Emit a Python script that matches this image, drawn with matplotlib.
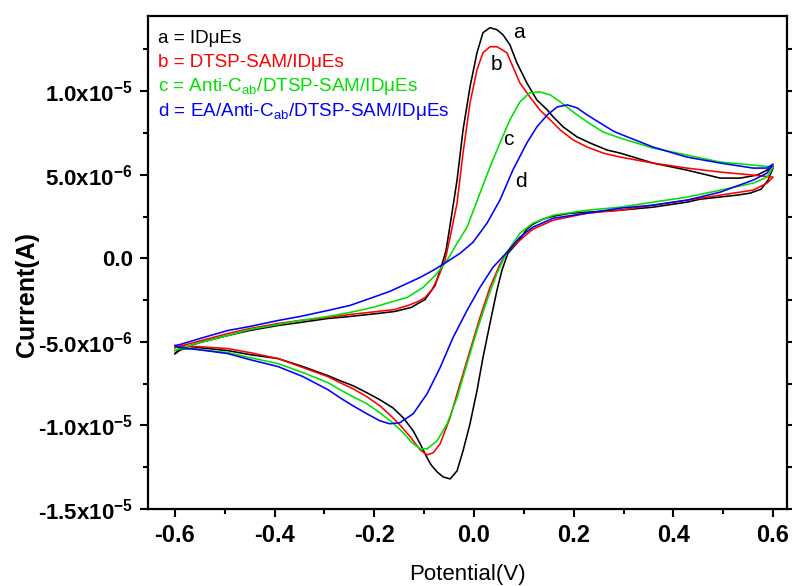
import matplotlib
matplotlib.use('Agg')
import numpy as np
import matplotlib.pyplot as plt
from matplotlib.ticker import FixedLocator, MultipleLocator

plt.rcParams['font.family'] = 'Liberation Sans'
plt.rcParams['mathtext.fontset'] = 'custom'
plt.rcParams['mathtext.rm'] = 'Liberation Sans'
plt.rcParams['mathtext.bf'] = 'Liberation Sans:bold'
plt.rcParams['axes.unicode_minus'] = False

# Voltammogramas: barrido de ida (-0.6 -> 0.6 V) y de vuelta (0.6 -> -0.6 V), corriente en uA
# a = IDuEs
a_ida_E = [-0.600, -0.588, -0.550, -0.494, -0.450, -0.393, -0.349, -0.293, -0.249, -0.193,
           -0.159, -0.126, -0.098, -0.078, -0.066, -0.056, -0.048, -0.034, -0.022, -0.008,
           0.006, 0.018, 0.032, 0.046, 0.058, 0.072, 0.086, 0.106, 0.126, 0.147,
           0.159, 0.179, 0.207, 0.233, 0.267, 0.293, 0.359, 0.427, 0.494, 0.534,
           0.568, 0.588, 0.600]
a_ida_I = [-5.70, -5.40, -5.04, -4.62, -4.32, -4.02, -3.84, -3.60, -3.48, -3.30,
           -3.18, -2.94, -2.46, -1.62, -0.54, 0.48, 1.98, 4.68, 7.68, 10.26,
           12.30, 13.50, 13.80, 13.68, 13.38, 12.78, 11.70, 10.50, 9.48, 8.88,
           8.46, 7.86, 7.26, 6.90, 6.48, 6.30, 5.70, 5.28, 4.80, 4.80,
           4.98, 5.28, 5.52]
a_vuelta_E = [0.600, 0.590, 0.576, 0.554, 0.528, 0.454, 0.427, 0.359, 0.293, 0.227,
              0.193, 0.159, 0.138, 0.118, 0.106, 0.086, 0.068, 0.056, 0.046, 0.032,
              0.018, 0.006, -0.008, -0.022, -0.034, -0.048, -0.062, -0.074, -0.086, -0.094,
              -0.108, -0.122, -0.142, -0.163, -0.189, -0.215, -0.243, -0.269, -0.293, -0.343,
              -0.393, -0.450, -0.494, -0.554, -0.588, -0.600]
a_vuelta_I = [5.40, 4.68, 4.14, 3.90, 3.78, 3.54, 3.36, 3.06, 2.88, 2.76,
              2.70, 2.52, 2.34, 2.04, 1.74, 0.90, 0.30, -0.72, -1.92, -3.90,
              -5.94, -7.92, -9.90, -11.52, -12.72, -13.20, -13.08, -12.78, -12.36, -11.94,
              -11.10, -10.32, -9.54, -8.94, -8.46, -8.04, -7.62, -7.32, -7.02, -6.48,
              -6.00, -5.76, -5.52, -5.34, -5.46, -5.70]

# b = DTSP-SAM/IDuEs
b_ida_E = [-0.600, -0.570, -0.494, -0.450, -0.393, -0.349, -0.293, -0.249, -0.193, -0.159,
           -0.132, -0.112, -0.098, -0.084, -0.072, -0.058, -0.048, -0.034, -0.022, -0.008,
           0.006, 0.018, 0.032, 0.046, 0.066, 0.078, 0.092, 0.112, 0.132, 0.153,
           0.173, 0.199, 0.227, 0.259, 0.293, 0.359, 0.427, 0.494, 0.560, 0.600]
b_ida_I = [-5.34, -5.10, -4.50, -4.20, -3.90, -3.72, -3.54, -3.36, -3.18, -3.06,
           -2.82, -2.58, -2.34, -1.86, -1.14, -0.12, 1.26, 3.30, 6.30, 9.30,
           11.28, 12.30, 12.66, 12.66, 12.30, 11.46, 10.50, 9.66, 8.88, 8.28,
           7.68, 7.08, 6.66, 6.30, 6.06, 5.70, 5.40, 5.16, 4.98, 4.86]
b_vuelta_E = [0.600, 0.588, 0.560, 0.494, 0.427, 0.359, 0.293, 0.227, 0.159, 0.118,
              0.092, 0.066, 0.052, 0.032, 0.012, -0.008, -0.028, -0.048, -0.068, -0.082,
              -0.094, -0.108, -0.128, -0.149, -0.169, -0.189, -0.215, -0.243, -0.269, -0.293,
              -0.343, -0.393, -0.450, -0.494, -0.554, -0.590, -0.600]
b_vuelta_I = [4.86, 4.50, 4.08, 3.78, 3.48, 3.18, 2.88, 2.70, 2.28, 1.74,
              1.08, 0.36, -0.36, -1.74, -3.54, -5.52, -7.50, -9.54, -11.10, -11.64,
              -11.76, -11.46, -10.68, -9.96, -9.36, -8.82, -8.28, -7.80, -7.44, -7.08,
              -6.54, -6.00, -5.64, -5.40, -5.28, -5.28, -5.34]

# c = Anti-Cab/DTSP-SAM/IDuEs
c_ida_E = [-0.600, -0.590, -0.550, -0.494, -0.450, -0.393, -0.349, -0.293, -0.249, -0.203,
           -0.169, -0.134, -0.102, -0.074, -0.054, -0.034, -0.014, 0.012, 0.032, 0.052,
           0.072, 0.092, 0.112, 0.132, 0.153, 0.173, 0.199, 0.227, 0.259, 0.293,
           0.359, 0.427, 0.494, 0.560, 0.600]
c_ida_I = [-5.52, -5.40, -5.04, -4.62, -4.26, -3.96, -3.72, -3.48, -3.24, -2.94,
           -2.64, -2.34, -1.74, -0.90, -0.12, 0.90, 1.86, 3.90, 5.46, 6.90,
           8.28, 9.36, 9.90, 9.96, 9.78, 9.36, 8.76, 8.16, 7.56, 7.20,
           6.60, 6.18, 5.76, 5.58, 5.46]
c_vuelta_E = [0.600, 0.588, 0.560, 0.494, 0.427, 0.359, 0.293, 0.227, 0.159, 0.118,
              0.092, 0.066, 0.046, 0.026, 0.006, -0.014, -0.034, -0.054, -0.074, -0.094,
              -0.108, -0.124, -0.142, -0.163, -0.189, -0.215, -0.243, -0.269, -0.293, -0.343,
              -0.393, -0.450, -0.494, -0.554, -0.590, -0.600]
c_vuelta_I = [5.46, 4.86, 4.50, 4.08, 3.66, 3.36, 3.06, 2.88, 2.58, 2.10,
              1.50, 0.36, -0.90, -2.52, -4.32, -6.30, -8.34, -9.90, -10.92, -11.40,
              -11.40, -11.04, -10.44, -9.84, -9.24, -8.70, -8.28, -7.86, -7.44, -6.84,
              -6.30, -5.94, -5.64, -5.46, -5.40, -5.52]

# d = EA/Anti-Cab/DTSP-SAM/IDuEs
d_ida_E = [-0.600, -0.590, -0.550, -0.494, -0.450, -0.393, -0.349, -0.293, -0.249, -0.203,
           -0.169, -0.134, -0.108, -0.082, -0.056, -0.028, -0.002, 0.026, 0.052, 0.078,
           0.106, 0.126, 0.147, 0.167, 0.187, 0.207, 0.227, 0.253, 0.279, 0.293,
           0.359, 0.427, 0.494, 0.560, 0.588, 0.600]
d_ida_I = [-5.22, -5.16, -4.80, -4.32, -4.08, -3.72, -3.48, -3.12, -2.82, -2.34,
           -1.98, -1.50, -1.14, -0.72, -0.24, 0.30, 0.96, 2.10, 3.48, 5.28,
           6.90, 7.86, 8.58, 9.06, 9.18, 9.00, 8.58, 8.10, 7.62, 7.44,
           6.66, 6.06, 5.70, 5.40, 5.40, 5.64]
d_vuelta_E = [0.600, 0.588, 0.560, 0.494, 0.427, 0.359, 0.293, 0.227, 0.159, 0.118,
              0.092, 0.066, 0.038, 0.012, -0.014, -0.042, -0.068, -0.094, -0.122, -0.149,
              -0.169, -0.189, -0.215, -0.243, -0.269, -0.293, -0.343, -0.393, -0.450, -0.494,
              -0.554, -0.590, -0.600]
d_vuelta_I = [5.64, 5.10, 4.68, 3.96, 3.48, 3.18, 3.00, 2.70, 2.40, 1.86,
              1.26, 0.36, -0.54, -1.74, -3.12, -4.74, -6.54, -8.10, -9.30, -9.84,
              -9.90, -9.72, -9.30, -8.82, -8.34, -7.86, -7.08, -6.48, -6.06, -5.70,
              -5.46, -5.34, -5.22]

leyendas = ['a = ID\u03bcEs',
            'b = DTSP-SAM/ID\u03bcEs',
            'c = Anti-C$_{\\mathregular{ab}}$/DTSP-SAM/ID\u03bcEs',
            'd = EA/Anti-C$_{\\mathregular{ab}}$/DTSP-SAM/ID\u03bcEs']
colores = ['black', '#ff0000', '#00e000', '#0000ff']

x_ticks = [-0.6, -0.4, -0.2, 0.0, 0.2, 0.4, 0.6]
x_labels = ['-0.6', '-0.4', '-0.2', '0.0', '0.2', '0.4', '0.6']
y_ticks = [-1.5e-5, -1.0e-5, -5e-6, 0.0, 5e-6, 1.0e-5]
y_labels = ['-1.5x10$^{\\mathbf{-5}}$', '-1.0x10$^{\\mathbf{-5}}$', '-5.0x10$^{\\mathbf{-6}}$',
            '0.0', '5.0x10$^{\\mathbf{-6}}$', '1.0x10$^{\\mathbf{-5}}$']

curvas = [(a_ida_E, a_ida_I, a_vuelta_E, a_vuelta_I),
          (b_ida_E, b_ida_I, b_vuelta_E, b_vuelta_I),
          (c_ida_E, c_ida_I, c_vuelta_E, c_vuelta_I),
          (d_ida_E, d_ida_I, d_vuelta_E, d_vuelta_I)]

fig = plt.figure(figsize=(7.92, 5.86), dpi=100)
ax = fig.add_axes([0.1869, 0.1314, 0.8068, 0.8413])

# dibujar cada ciclo completo (ida + vuelta) en A
for (e1, i1, e2, i2), col in zip(curvas, colores):
    E = np.concatenate([e1, e2])
    I = np.concatenate([i1, i2]) * 1e-6
    ax.plot(E, I, color=col, lw=1.15)

ax.set_xlim(-0.654, 0.628)
ax.set_ylim(-1.5e-5, 1.45e-5)

ax.xaxis.set_major_locator(FixedLocator(x_ticks))
ax.set_xticklabels(x_labels, fontsize=17, fontweight='bold')
ax.xaxis.set_minor_locator(MultipleLocator(0.1))
ax.yaxis.set_major_locator(FixedLocator(y_ticks))
ax.set_yticklabels(y_labels, fontsize=16, fontweight='bold')
ax.yaxis.set_minor_locator(MultipleLocator(2.5e-6))

ax.tick_params(which='major', direction='out', length=6, width=1.5, pad=5)
ax.tick_params(which='minor', direction='out', length=3.5, width=1.5)
ax.tick_params(axis='y', which='both', right=True)
for s in ax.spines.values():
    s.set_linewidth(1.6)

ax.set_xlabel('Potential(V)', fontsize=16, labelpad=12)
ax.set_ylabel('Current(A)', fontsize=18, fontweight='bold')
ax.yaxis.set_label_coords(-0.170, 0.436)

# leyenda escrita como texto coloreado
for k, (txt, col) in enumerate(zip(leyendas, colores)):
    ax.text(0.016, 0.955 - k * 0.0495, txt, color=col, fontsize=13.6,
            transform=ax.transAxes, va='center', ha='left')

# etiquetas de cada curva
ax.text(0.090, 1.35e-5, 'a', fontsize=15, ha='center', va='center')
ax.text(0.046, 1.16e-5, 'b', fontsize=15, ha='center', va='center')
ax.text(0.068, 7.1e-6, 'c', fontsize=15, ha='center', va='center')
ax.text(0.094, 4.6e-6, 'd', fontsize=15, ha='center', va='center')

fig.savefig('out.png', dpi=100)
